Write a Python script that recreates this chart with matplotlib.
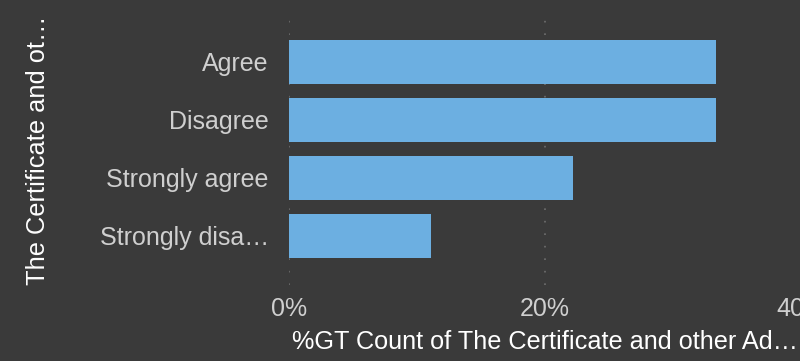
import matplotlib
matplotlib.use("Agg")
import matplotlib.pyplot as plt
from matplotlib.ticker import FuncFormatter

# data
categories = ["Agree", "Disagree", "Strongly agree", "Strongly disagree"]
tick_labels = ["Agree", "Disagree", "Strongly agree", "Strongly disa\u2026"]
percents = [33.33, 33.33, 22.22, 11.11]
x_ticks = [0, 20, 40]

bg = "#3a3a3a"
bar_color = "#6cafe1"

plt.rcParams['font.family'] = ['Liberation Sans', 'DejaVu Sans']

fig = plt.figure(figsize=(8, 3.61), dpi=100, facecolor=bg)
ax = fig.add_axes([289/800, 1-285/361, 512/800, 270/361], facecolor=bg)

pos = list(range(len(categories)))
ax.barh(pos, percents, height=0.76, color=bar_color, zorder=3)

ax.set_xlim(0, 40)
ax.set_ylim(3.845, -0.81)
ax.set_xticks(x_ticks)
ax.xaxis.set_major_formatter(FuncFormatter(lambda v, p: "{:.0f}%".format(v)))
ax.set_yticks(pos)
ax.set_yticklabels(tick_labels)

ax.grid(axis='x', color='#6e6e6e', linestyle=(0, (1, 6.5)), linewidth=1.2, zorder=0)
ax.grid(axis='y', visible=False)
for s in ax.spines.values():
    s.set_visible(False)

ax.tick_params(axis='y', length=0, pad=14.5, labelsize=18, labelcolor='#cfcfcf')
ax.tick_params(axis='x', length=0, pad=9, labelsize=18, labelcolor='#cfcfcf')

ax.set_xlabel("%GT Count of The Certificate and other Ad\u2026", fontsize=18.2,
              color='#ffffff', labelpad=6)
ax.set_ylabel("The Certificate and ot\u2026", fontsize=18.3, color='#ffffff')
ax.yaxis.set_label_coords(-(289-50)/512, 0.5)

fig.savefig("out.png", dpi=100, facecolor=bg)
